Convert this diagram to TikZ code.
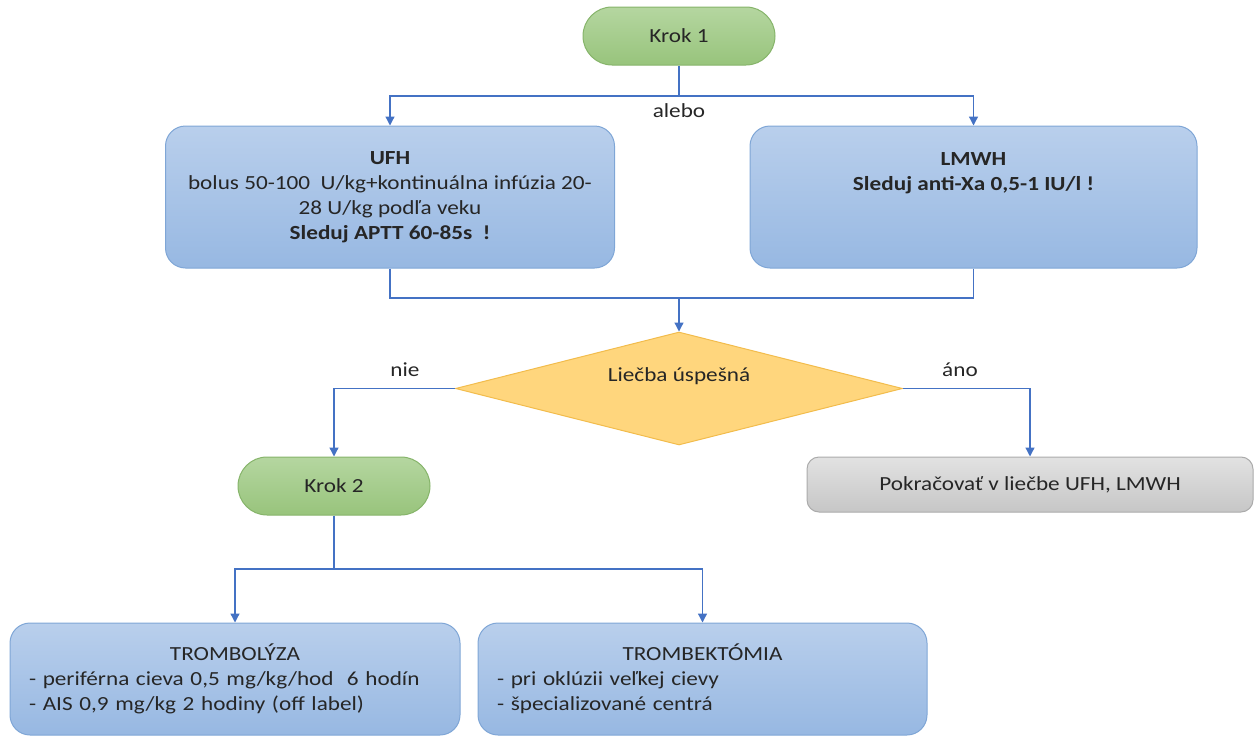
\documentclass[tikz,border=0pt]{standalone}
\usepackage{fontspec}
\setmainfont{Carlito}[FakeStretch=1.16]
\usetikzlibrary{shapes.geometric,arrows.meta}
\definecolor{lineblue}{HTML}{4472C4}
\definecolor{txt}{HTML}{262626}
\definecolor{greentop}{HTML}{B5D6A0}
\definecolor{greenbot}{HTML}{98C47C}
\definecolor{greenedge}{HTML}{86B46A}
\definecolor{bluetop}{HTML}{B9CFEC}
\definecolor{bluebot}{HTML}{97B8E2}
\definecolor{blueedge}{HTML}{7FA6D6}
\definecolor{diafill}{HTML}{FFD67D}
\definecolor{diaedge}{HTML}{F2BC4C}
\definecolor{greytop}{HTML}{E2E2E2}
\definecolor{greybot}{HTML}{C6C6C6}
\definecolor{greyedge}{HTML}{ABABAB}
\begin{document}
\begin{tikzpicture}[x=1pt,y=-1pt,
  font=\fontsize{20}{25}\selectfont, text=txt,
  krok/.style={draw=greenedge, line width=1pt, top color=greentop, bottom color=greenbot,
    rounded corners=29pt, minimum width=192pt, minimum height=58pt, inner sep=0pt},
  bluebox/.style={draw=blueedge, line width=1pt, top color=bluetop, bottom color=bluebot,
    rounded corners=20pt, inner sep=0pt},
  greybox/.style={draw=greyedge, line width=1pt, top color=greytop, bottom color=greybot,
    rounded corners=12pt, inner sep=0pt},
  dia/.style={diamond, draw=diaedge, line width=1pt, fill=diafill, inner sep=0pt,
    minimum width=447pt, minimum height=113pt},
  conn/.style={draw=lineblue, line width=1.3pt},
  arr/.style={conn, -{Triangle[width=9pt,length=9pt]}},
  lbl/.style={inner sep=0pt}
]
\useasboundingbox (0,0) rectangle (1256,736);

\node[krok] (k1) at (679,36) {Krok 1};
\node[bluebox, minimum width=449pt, minimum height=142pt, align=center] (ufh) at (390,197)
  {\textbf{UFH}\\bolus 50-100\ \ U/kg+kontinuálna infúzia 20-\\28 U/kg podľa veku\\\textbf{Sleduj APTT 60-85s\ \ !}};
\node[bluebox, minimum width=447pt, minimum height=142pt, align=center] (lmwh) at (973.5,197)
  {\textbf{LMWH}\\\textbf{Sleduj anti-Xa 0,5-1 IU/l !}\\~\\~};
\node[dia] (d) at (679,388.5) {};
\node[lbl] (dt) at (679,376) {Liečba úspešná};
\node[krok] (k2) at (334,486) {Krok 2};
\node[greybox, minimum width=446pt, minimum height=55pt] (g) at (1030,484.5) {Pokračovať v liečbe UFH, LMWH};
\node[bluebox, minimum width=450pt, minimum height=112pt, text width=412pt, align=left] (tl) at (235,679)
  {\makebox[412pt][c]{TROMBOLÝZA}\\- periférna cieva 0,5 mg/kg/hod\ \ 6 hodín\\- AIS 0,9 mg/kg 2 hodiny (off label)};
\node[bluebox, minimum width=449pt, minimum height=112pt, text width=411pt, align=left] (tk) at (702.5,679)
  {\makebox[411pt][c]{TROMBEKTÓMIA}\\- pri oklúzii veľkej cievy\\- špecializované centrá};

\node[lbl] (alebo) at (679,111) {alebo};
\node[lbl] (nie) at (405,370) {nie};
\node[lbl] (ano) at (960,370) {áno};

\coordinate (s1) at (679,96);
\coordinate (m1) at (679,298);
\coordinate (s2) at (334,569);

\draw[conn] (k1.south) -- (s1);
\draw[arr] (s1) -| (ufh.north);
\draw[arr] (s1) -| (lmwh.north);
\draw[conn] (ufh.south) |- (m1);
\draw[conn] (lmwh.south) |- (m1);
\draw[arr] (m1) -- (d.north);
\draw[arr] (d.west) -| (k2.north);
\draw[arr] (d.east) -| (g.north);
\draw[conn] (k2.south) -- (s2);
\draw[arr] (s2) -| (tl.north);
\draw[arr] (s2) -| (tk.north);
\end{tikzpicture}
\end{document}
